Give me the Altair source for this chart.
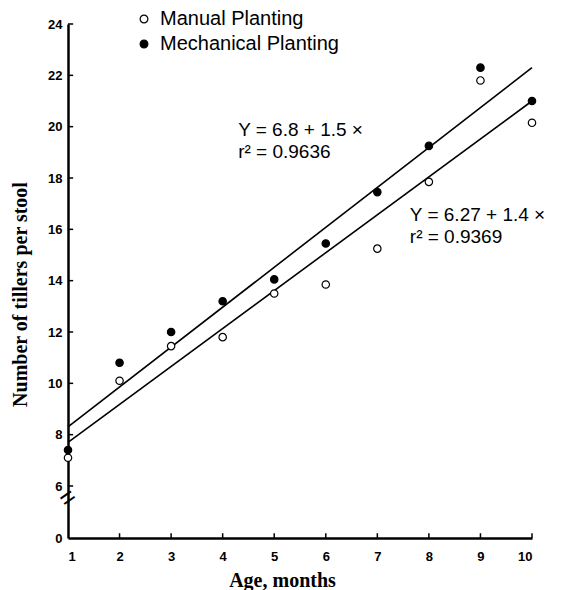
import altair as alt
import pandas as pd

# ---- data ----
months = [1, 2, 3, 4, 5, 6, 7, 8, 9, 10]
manual = [7.1, 10.1, 11.45, 11.8, 13.5, 13.85, 15.25, 17.85, 21.8, 20.15]
mechanical = [7.4, 10.8, 12.0, 13.2, 14.05, 15.45, 17.45, 19.25, 22.3, 21.0]
series_names = ["Manual Planting", "Mechanical Planting"]

fit_months = [1, 10]
manual_fit = [7.7, 21.0]
mechanical_fit = [8.3, 22.3]

y_ticks = [0, 6, 8, 10, 12, 14, 16, 18, 20, 22, 24]
x_ticks = months

eq_mechanical = ["Y = 6.8 + 1.5 ×", "r² = 0.9636"]
eq_manual = ["Y = 6.27 + 1.4 ×", "r² = 0.9369"]

# ---- tables ----
points = pd.DataFrame({
    "month": months * 2,
    "value": manual + mechanical,
    "series": [series_names[0]] * len(months) + [series_names[1]] * len(months),
})
fits = pd.DataFrame({
    "month": fit_months * 2,
    "value": manual_fit + mechanical_fit,
    "series": [series_names[0]] * 2 + [series_names[1]] * 2,
})
notes = pd.DataFrame({
    "month": [4.30, 4.30, 7.63, 7.63],
    "value": [19.86, 19.03, 16.55, 15.70],
    "text": eq_mechanical + eq_manual,
})
ytick_df = pd.DataFrame({"month": [1] * (len(y_ticks) - 1), "month2": [1.1] * (len(y_ticks) - 1),
                         "value": y_ticks[1:]})
xtick_df = pd.DataFrame({"month": x_ticks[1:], "value": [0] * (len(x_ticks) - 1),
                         "value2": [0.55] * (len(x_ticks) - 1)})
brk = pd.DataFrame({"month": [1], "value": [4.6], "text": ["="]})

# ---- scales / axes ----
H = 514
W = 464
xscale = alt.Scale(domain=[1, 10], nice=False, zero=False)
yscale = alt.Scale(domain=[0, 6, 24], range=[H, 462, 0], nice=False, zero=False)

xaxis = alt.Axis(values=x_ticks, tickSize=0, labelPadding=12, labelFont="Liberation Sans",
                 labelFontWeight="bold", labelFontSize=13, labelColor="black",
                 domainColor="black", domainWidth=2.5, grid=False,
                 title="Age, months", titleFont="Liberation Serif", titleFontSize=20,
                 titleFontWeight="bold", titleColor="black", titleX=214, titleY=42,
                 titleAlign="center", titleBaseline="middle")
yaxis = alt.Axis(values=y_ticks, tickSize=0, labelPadding=6, labelFont="Liberation Sans",
                 labelFontWeight="bold", labelFontSize=13, labelColor="black",
                 domainColor="black", domainWidth=2.5, grid=False,
                 title="Number of tillers per stool", titleFont="Liberation Serif",
                 titleFontSize=20, titleFontWeight="bold", titleColor="black",
                 titleAngle=270, titleX=-48, titleY=270, titleAlign="center",
                 titleBaseline="middle")

x_enc = alt.X("month:Q", scale=xscale, axis=xaxis)
y_enc = alt.Y("value:Q", scale=yscale, axis=yaxis)

lines = alt.Chart(fits).mark_line(color="black", strokeWidth=1.6).encode(
    x=x_enc, y=y_enc, detail="series:N")

yt = alt.Chart(ytick_df).mark_rule(color="black", strokeWidth=1.5).encode(
    x=x_enc, x2="month2:Q", y=y_enc)
xt = alt.Chart(xtick_df).mark_rule(color="black", strokeWidth=1.5).encode(
    x=x_enc, y=y_enc, y2="value2:Q")

pts = alt.Chart(points).mark_point(shape="circle", filled=True, size=55,
                                   stroke="black", strokeWidth=1.2, opacity=1).encode(
    x=x_enc, y=y_enc,
    fill=alt.Fill("series:N", scale=alt.Scale(domain=series_names, range=["white", "black"]),
                  legend=alt.Legend(title=None, orient="none", legendX=66, legendY=-15,
                                    labelFont="Liberation Sans", labelFontSize=20,
                                    labelColor="black", labelLimit=400,
                                    symbolType="circle", symbolSize=60,
                                    symbolStrokeColor="black", symbolStrokeWidth=1.2,
                                    rowPadding=5, labelOffset=6, padding=0)),
)

txt = alt.Chart(notes).mark_text(align="left", baseline="middle", font="Liberation Sans",
                                 fontSize=19, color="black").encode(
    x=x_enc, y=y_enc, text="text:N")

brk_mark = alt.Chart(brk).mark_text(font="Liberation Sans", fontSize=26, angle=325,
                                    color="black", baseline="middle", align="center").encode(
    x=x_enc, y=y_enc, text="text:N")

chart = alt.layer(lines, yt, xt, pts, txt, brk_mark).properties(
    width=W, height=H, autosize="none",
    padding={"left": 60, "top": 16, "right": 29, "bottom": 60},
    background="white",
).configure_view(stroke=None)

chart.save("out.html", embed_options={"renderer": "svg", "actions": False})
